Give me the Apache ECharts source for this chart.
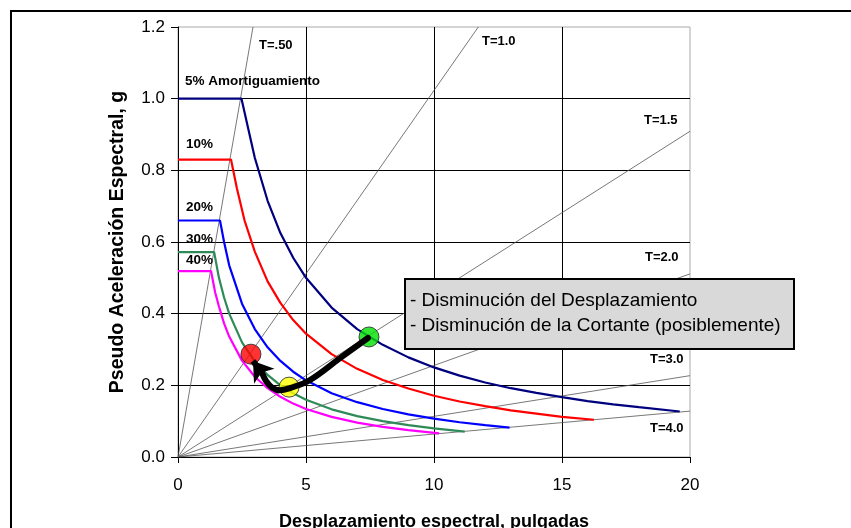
<!DOCTYPE html>
<html><head><meta charset="utf-8">
<script src="https://cdn.jsdelivr.net/npm/echarts@6/dist/echarts.min.js"></script>
<style>html,body{margin:0;padding:0;background:#fff}#c{width:851px;height:528px}</style>
</head><body><div id="c"></div>
<script>
// ---- data ----
const xTicks = [0, 5, 10, 15, 20];
const yTicks = [0.0, 0.2, 0.4, 0.6, 0.8, 1.0, 1.2];

const dampNames = ['5% Amortiguamiento', '10%', '20%', '30%', '40%'];
const damp5 = [[0,1.0],[2.48,1.0],[2.7,0.93],[3.0,0.835],[3.5,0.715],[4,0.625],[4.5,0.556],[5,0.5],[6,0.417],[7,0.357],[8,0.313],[9,0.278],[10,0.25],[11,0.227],[12,0.208],[13,0.192],[14,0.179],[15,0.167],[16,0.156],[17,0.147],[18,0.139],[19.6,0.127]];
const damp10 = [[0,0.83],[2.07,0.83],[2.3,0.75],[2.6,0.66],[3,0.573],[3.5,0.49],[4,0.43],[4.5,0.382],[5,0.344],[6,0.287],[7,0.246],[8,0.215],[9,0.191],[10,0.171],[11,0.155],[12,0.142],[13,0.13],[14,0.121],[15,0.112],[16.25,0.104]];
const damp20 = [[0,0.66],[1.64,0.66],[1.8,0.6],[2,0.535],[2.5,0.428],[3,0.357],[3.5,0.306],[4,0.268],[4.5,0.238],[5,0.214],[6,0.178],[7,0.153],[8,0.134],[9,0.119],[10,0.107],[11,0.097],[12,0.089],[12.95,0.082]];
const damp30 = [[0,0.572],[1.41,0.572],[1.6,0.5],[1.8,0.445],[2,0.4],[2.5,0.32],[3,0.267],[3.5,0.229],[4,0.2],[4.5,0.178],[5,0.16],[6,0.133],[7,0.114],[8,0.1],[9,0.089],[10,0.08],[11.2,0.071]];
const damp40 = [[0,0.519],[1.29,0.519],[1.45,0.46],[1.6,0.42],[1.8,0.373],[2,0.336],[2.5,0.269],[3,0.224],[3.5,0.192],[4,0.168],[4.5,0.149],[5,0.134],[6,0.112],[7,0.096],[8,0.084],[9,0.075],[10.2,0.066]];
const dampCurves = [damp5, damp10, damp20, damp30, damp40];
const dampColors = ['#00007f', '#ff0000', '#0000ff', '#2e8b57', '#ff00ff'];

const periodNames = ['T=.50', 'T=1.0', 'T=1.5', 'T=2.0', 'T=3.0', 'T=4.0'];
const periodEnds = [[2.93,1.2],[11.73,1.2],[20,0.909],[20,0.511],[20,0.227],[20,0.128]];

const pointNames = ['Inicial', 'Reducido', 'Final'];
const pointValues = [[7.46,0.335],[4.34,0.195],[2.85,0.287]];
const pointColors = ['#00e000', '#ffff00', '#ff0000'];

const arrowPath = [[7.42,0.332],[6.33,0.276],[5.16,0.215],[4.4,0.193],[3.98,0.186],[3.67,0.194],[3.44,0.212],[3.3,0.232]];
const arrowHead = [[3.3,0.232],[2.93,0.268]];

const noteLines = ['- Disminución del Desplazamiento', '- Disminución de la Cortante (posiblemente)'];
const xName = 'Desplazamiento espectral, pulgadas';
const yName = 'Pseudo Aceleración Espectral, g';

// ---- chart ----
const chart = echarts.init(document.getElementById('c'), null, {renderer: 'canvas'});
const FONT = 'Liberation Sans, Arial, sans-serif';
const series = [];
periodEnds.forEach((e, i) => {
  series.push({type: 'line', name: periodNames[i], data: [[0,0], e], symbol: 'none', silent: true, z: 1,
    lineStyle: {color: '#555', width: 0.8}});
});
dampCurves.forEach((d, i) => {
  series.push({type: 'line', name: dampNames[i], data: d, symbol: 'none', z: 3,
    lineStyle: {color: dampColors[i], width: 2.2}});
});
series.push({type: 'scatter', data: pointValues.map((v, i) => ({name: pointNames[i], value: v, itemStyle: {color: pointColors[i]}})),
  symbolSize: 20, z: 5, itemStyle: {borderColor: '#222', borderWidth: 1}});
series.push({type: 'line', data: arrowPath, smooth: 0.4, symbol: 'none', z: 6,
  lineStyle: {color: '#000', width: 6, cap: 'round'}});
series.push({type: 'lines', coordinateSystem: 'cartesian2d', z: 6, symbol: ['none', 'arrow'], symbolSize: 19,
  data: [{coords: arrowHead}], lineStyle: {color: '#000', width: 6, opacity: 1, curveness: 0}});

const txt = (x, y, t, size, weight) => ({type: 'text', x: x, y: y, z: 20,
  style: {text: t, fill: '#000', font: (weight || 'bold') + ' ' + size + 'px ' + FONT, verticalAlign: 'middle'}});

chart.setOption({
  animation: false,
  backgroundColor: '#fff',
  grid: {left: 178, top: 27, right: 161, bottom: 71, show: true, borderColor: '#aaa', borderWidth: 1,
    containLabel: false, outerBoundsMode: 'none'},
  xAxis: {type: 'value', min: xTicks[0], max: xTicks[xTicks.length - 1], interval: 5,
    name: xName, nameLocation: 'middle', nameGap: 56,
    nameTextStyle: {fontFamily: FONT, fontSize: 18, fontWeight: 'bold', color: '#000'},
    axisLine: {show: true, lineStyle: {color: '#000', width: 1}},
    axisTick: {show: true, inside: false, length: 6, lineStyle: {color: '#000'}},
    axisLabel: {fontFamily: FONT, fontSize: 17, color: '#000', margin: 20},
    splitLine: {show: true, showMaxLine: false, lineStyle: {color: '#000', width: 1}}},
  yAxis: {type: 'value', min: yTicks[0], max: yTicks[yTicks.length - 1], interval: 0.2,
    name: yName, nameLocation: 'middle', nameGap: 50, nameRotate: 90,
    nameTextStyle: {fontFamily: FONT, fontSize: 19.5, fontWeight: 'bold', color: '#000'},
    axisLine: {show: true, lineStyle: {color: '#000', width: 1}},
    axisTick: {show: true, inside: false, length: 7, lineStyle: {color: '#000'}},
    axisLabel: {fontFamily: FONT, fontSize: 17, color: '#000', margin: 13, formatter: v => v.toFixed(1)},
    splitLine: {show: true, showMaxLine: false, lineStyle: {color: '#000', width: 1}}},
  series: series,
  graphic: [
    {type: 'polyline', z: 30, shape: {points: [[11, 528], [11, 11], [851, 11]]}, style: {stroke: '#000', lineWidth: 2, fill: null}},
    txt(185, 81, dampNames[0], 13.5), txt(186, 144, dampNames[1], 13.5), txt(186, 207, dampNames[2], 13.5),
    txt(186, 239, dampNames[3], 13.5), txt(186, 260, dampNames[4], 13.5),
    txt(259, 45, periodNames[0], 13), txt(482, 41, periodNames[1], 13), txt(644, 120, periodNames[2], 13),
    txt(645, 257, periodNames[3], 13), txt(650, 359, periodNames[4], 13), txt(650, 428, periodNames[5], 13),
    {type: 'rect', z: 25, shape: {x: 405, y: 279, width: 389, height: 70}, style: {fill: '#d9d9d9', stroke: '#000', lineWidth: 2}},
    {type: 'text', z: 26, x: 410, y: 301, style: {text: noteLines[0], fill: '#000', font: '19px ' + FONT, verticalAlign: 'middle'}},
    {type: 'text', z: 26, x: 410, y: 326, style: {text: noteLines[1], fill: '#000', font: '19px ' + FONT, verticalAlign: 'middle'}}
  ]
});
</script></body></html>
